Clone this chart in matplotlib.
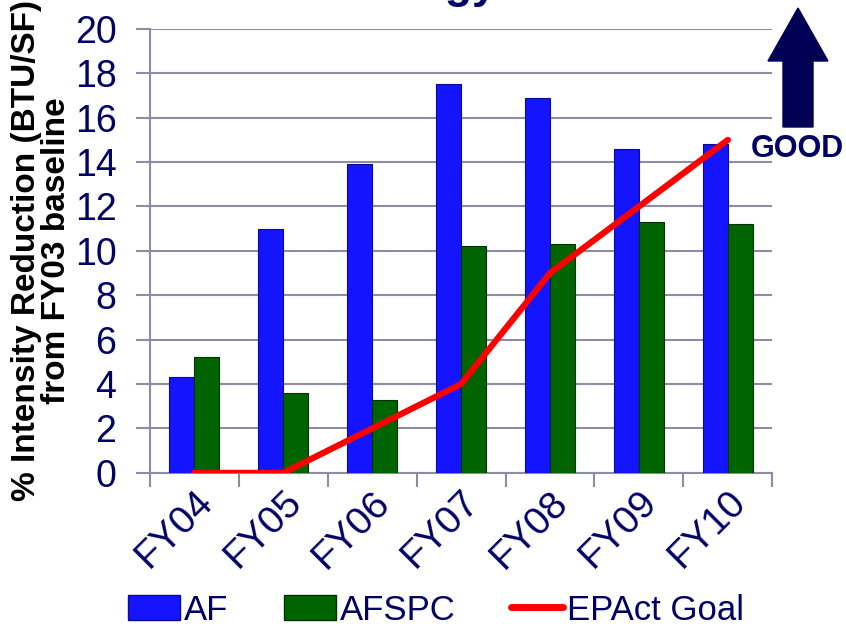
import matplotlib.pyplot as plt
import numpy as np
from matplotlib.patches import Polygon, Patch
from matplotlib.lines import Line2D

plt.rcParams['font.family'] = ['Liberation Sans', 'DejaVu Sans']

years = ['FY04', 'FY05', 'FY06', 'FY07', 'FY08', 'FY09', 'FY10']
af = [4.3, 11.0, 13.9, 17.5, 16.9, 14.6, 14.8]
afspc = [5.2, 3.6, 3.3, 10.2, 10.3, 11.3, 11.2]
epact = [0, 0, 2, 4, 9, 12, 15]

navy = '#000066'
grid = '#8c8ca6'

fig = plt.figure(figsize=(8.46, 6.28), dpi=100)
ax = fig.add_axes([0.177, 0.247, 0.736, 0.707])

x = np.arange(len(years))
w = 0.28
ax.bar(x - w/2, af, w, color='#1414ff', edgecolor='#0a0a99', linewidth=0.8, zorder=3)
ax.bar(x + w/2, afspc, w, color='#006400', edgecolor='#003300', linewidth=0.8, zorder=3)
ax.plot(x, epact, color='#ff0000', lw=4.5, solid_capstyle='round', zorder=4)

ax.set_xlim(-0.5, 6.5)
ax.set_ylim(0, 20)
ax.set_yticks(np.arange(0, 21, 2))
ax.yaxis.grid(True, color=grid, lw=1.5, zorder=0)
ax.set_axisbelow(True)

ax.set_xticks(x)
ax.set_xticklabels(years, rotation=45, ha='right', rotation_mode='anchor')
ax.set_xticks(np.arange(-0.5, 7, 1), minor=True)
ax.tick_params(axis='x', which='major', length=0, labelsize=28, labelcolor=navy, pad=8)
ax.tick_params(axis='x', which='minor', length=10, width=1.5, color=grid)
ax.tick_params(axis='y', length=10, width=1.5, color=grid, labelsize=27, labelcolor=navy, pad=14)

for s in ['top', 'right']:
    ax.spines[s].set_visible(False)
for s in ['left', 'bottom']:
    ax.spines[s].set_color(grid)
    ax.spines[s].set_linewidth(1.5)

ax.set_ylabel('% Intensity Reduction (BTU/SF)\nfrom FY03 baseline', fontsize=24,
              fontweight='bold', color='black', labelpad=2, linespacing=0.95)

# arrow and GOOD
px = lambda xx, yy: (xx / 846, 1 - yy / 628)
arr_pts = np.array([px(a, b) for a, b in [[783, 127], [813, 127], [813, 61], [828, 61],
                                          [798, 8], [768, 61], [783, 61]]])
fig.patches.append(Polygon(arr_pts, closed=True, color='#000055',
                           transform=fig.transFigure, figure=fig))
fig.text(797 / 846, 1 - 149 / 628, 'GOOD', fontsize=22, fontweight='bold',
         color=navy, ha='center', va='center')

# title cut off at top
fig.text(497 / 846, 1 + 2 / 628, 'Energy', fontsize=32, fontweight='bold',
         color=navy, ha='right', va='baseline')

handles = [Patch(facecolor='#1414ff', edgecolor='#0a0a99'),
           Patch(facecolor='#006400', edgecolor='#003300'),
           Line2D([0], [0], color='#ff0000', lw=5, solid_capstyle='round')]
leg = fig.legend(handles, ['AF', 'AFSPC', 'EPAct Goal'], loc='center',
                 bbox_to_anchor=(436 / 846, 1 - 610 / 628), ncol=3, frameon=False,
                 fontsize=25, handlelength=1.5, handleheight=0.7,
                 handletextpad=0.12, columnspacing=1.6)
for t in leg.get_texts():
    t.set_color(navy)

fig.savefig('out.png', dpi=100)
